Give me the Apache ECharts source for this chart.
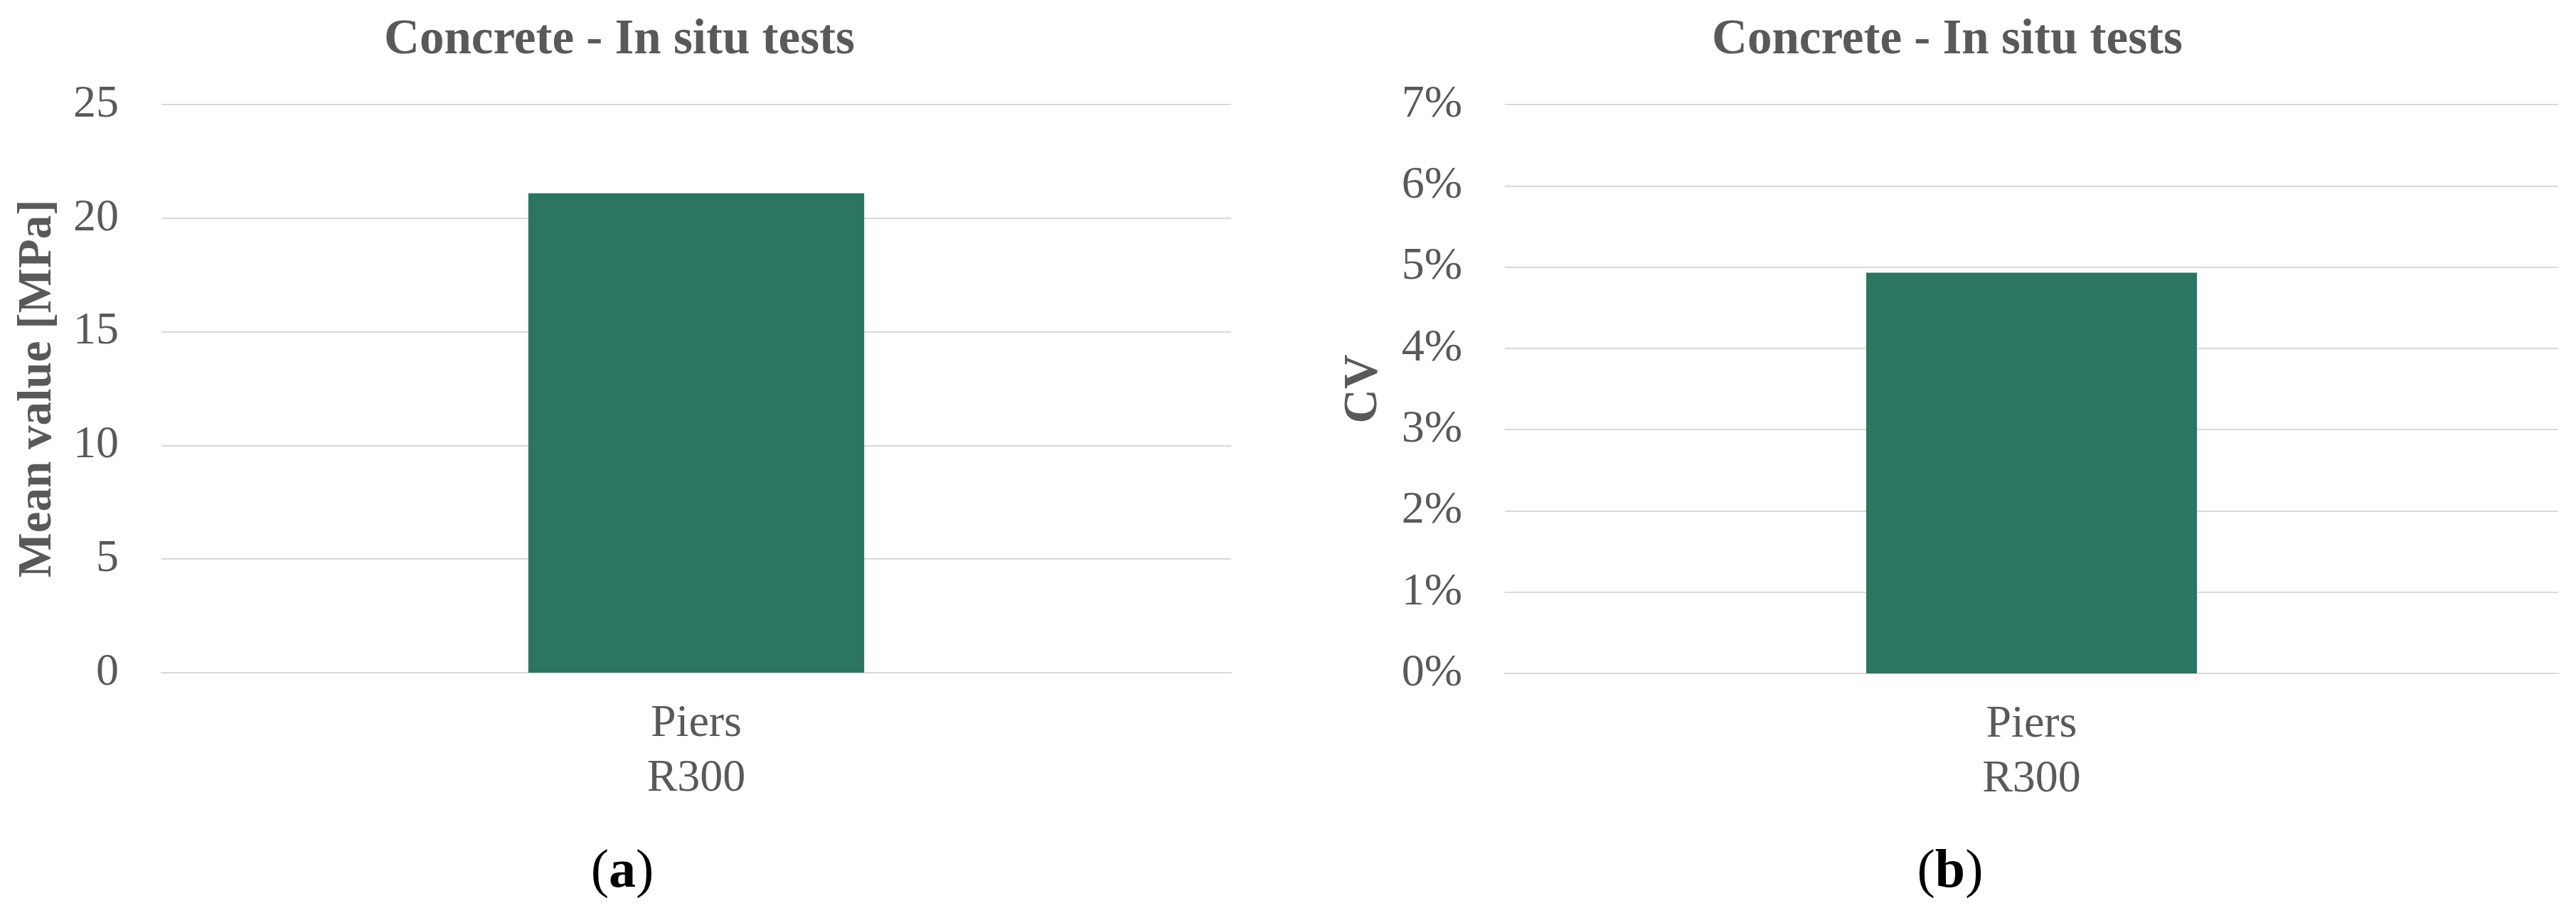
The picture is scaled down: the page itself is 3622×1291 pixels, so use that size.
<!DOCTYPE html>
<html>
<head>
<meta charset="utf-8">
<script src="https://cdn.jsdelivr.net/npm/echarts@6/dist/echarts.min.js"></script>
<style>
html,body{margin:0;padding:0;background:#fff;}
#chart{width:3622px;height:1291px;}
</style>
</head>
<body>
<div id="chart"></div>
<script>
// ---- data ----
const categories = ['Piers\nR300'];
const meanValues = [21.1];      // MPa
const cvValues = [0.0493];      // fraction (4.93 %)
const chartTitles = ['Concrete - In situ tests', 'Concrete - In situ tests'];
const yAxisNames = ['Mean value [MPa]', 'CV'];
const panelLabels = ['a', 'b'];
const meanAxis = { min: 0, max: 25, interval: 5 };
const cvAxis = { min: 0, max: 0.07, interval: 0.01 };

// ---- styles ----
const FONT = 'Liberation Serif, Times New Roman, serif';
const GREY = '#595959';
const GRID = '#d9d9d9';
const BAR = '#2b7562';

const chart = echarts.init(document.getElementById('chart'));

function xAxisCfg(gi) {
  return {
    type: 'category', gridIndex: gi, data: categories,
    axisLine: { show: true, lineStyle: { color: GRID, width: 2 } },
    axisTick: { show: false },
    axisLabel: { color: GREY, fontFamily: FONT, fontSize: 64, lineHeight: 77, margin: 34 }
  };
}
function yAxisCfg(gi, ax, name, gap, fmt) {
  return {
    type: 'value', gridIndex: gi, min: ax.min, max: ax.max, interval: ax.interval,
    name: name, nameLocation: 'middle', nameRotate: 90, nameGap: gap,
    nameTextStyle: { color: GREY, fontFamily: FONT, fontSize: 67, fontWeight: 'bold' },
    axisLine: { show: false }, axisTick: { show: false },
    splitLine: { lineStyle: { color: GRID, width: 2 } },
    axisLabel: { color: GREY, fontFamily: FONT, fontSize: 64, margin: 60, formatter: fmt }
  };
}

const option = {
  backgroundColor: '#fff',
  animation: false,
  grid: [
    { left: 227, top: 147, width: 1504, height: 799 },
    { left: 2116, top: 147, width: 1481, height: 800 }
  ],
  xAxis: [xAxisCfg(0), xAxisCfg(1)],
  yAxis: [
    yAxisCfg(0, meanAxis, yAxisNames[0], 140, v => String(v)),
    yAxisCfg(1, cvAxis, yAxisNames[1], 165, v => Math.round(v * 100) + '%')
  ],
  series: [
    { type: 'bar', xAxisIndex: 0, yAxisIndex: 0, data: meanValues, barWidth: '31.4%', itemStyle: { color: BAR } },
    { type: 'bar', xAxisIndex: 1, yAxisIndex: 1, data: cvValues, barWidth: '31.4%', itemStyle: { color: BAR } }
  ],
  graphic: [
    { type: 'text', x: 871, y: 57, style: { text: chartTitles[0], fill: GREY, font: 'bold 69px ' + FONT, textAlign: 'center', textVerticalAlign: 'middle' } },
    { type: 'text', x: 2738, y: 57, style: { text: chartTitles[1], fill: GREY, font: 'bold 69px ' + FONT, textAlign: 'center', textVerticalAlign: 'middle' } },
    { type: 'text', x: 875, y: 1227, style: { text: '{p|(}{b|' + panelLabels[0] + '}{p|)}', textAlign: 'center', textVerticalAlign: 'middle',
        rich: { p: { fontFamily: FONT, fontSize: 76, fill: '#000' }, b: { fontFamily: FONT, fontSize: 76, fontWeight: 'bold', fill: '#000' } } } },
    { type: 'text', x: 2742, y: 1227, style: { text: '{p|(}{b|' + panelLabels[1] + '}{p|)}', textAlign: 'center', textVerticalAlign: 'middle',
        rich: { p: { fontFamily: FONT, fontSize: 76, fill: '#000' }, b: { fontFamily: FONT, fontSize: 76, fontWeight: 'bold', fill: '#000' } } } }
  ]
};
chart.setOption(option);
</script>
</body>
</html>
